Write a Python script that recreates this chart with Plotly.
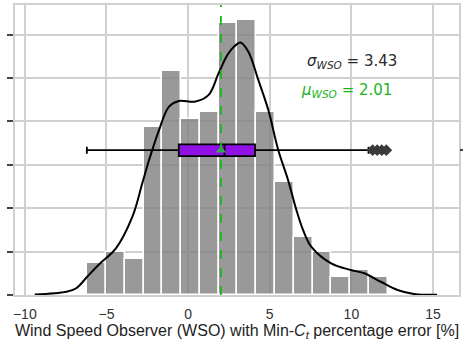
import plotly.graph_objects as go

# ---- data ----
bin_left = [-6.18, -5.03, -3.88, -2.73, -1.58, -0.43, 0.72, 1.87, 3.02, 4.17,
            5.32, 6.47, 7.62, 8.77, 9.92, 11.07]
bin_width = 1.15
density = [0.0146, 0.0198, 0.0164, 0.0776, 0.1032, 0.0811, 0.0843, 0.1252,
           0.1267, 0.0843, 0.0522, 0.0269, 0.0200, 0.0082, 0.0115, 0.0082]

kde_x = [-9.39, -7.46, -6.85, -6.18, -5.43, -4.42, -3.41, -2.80, -2.39, -1.78,
         -1.17, -0.57, 0.45, 1.26, 1.87, 2.48, 3.08, 3.21, 3.69, 4.30, 4.91,
         5.52, 6.12, 6.63, 7.04, 7.54, 8.76, 9.98, 10.79, 11.80, 12.82, 13.83, 15.25]
kde_y = [0.0002, 0.0015, 0.0031, 0.0084, 0.0143, 0.0215, 0.0361, 0.0516, 0.0622, 0.0760,
         0.0868, 0.0894, 0.0891, 0.0922, 0.1022, 0.1114, 0.1160, 0.1163, 0.1121, 0.0991, 0.0853,
         0.0668, 0.0530, 0.0392, 0.0300, 0.0223, 0.0146, 0.0115, 0.0100, 0.0061, 0.0023, 0.0005, 0.0001]

box_q1 = -0.57
box_median = 2.23
box_q3 = 4.10
box_low = -6.20
box_high = 11.05
outliers = [11.30, 11.58, 11.86, 12.14]
box_pos = 0.0667

mean_val = 2.01
std_val = 3.43

x_ticks = [-10, -5, 0, 5, 10, 15]
x_ticklabels = ["\u221210", "\u22125", "0", "5", "10", "15"]
y_ticks = [0, 0.02, 0.04, 0.06, 0.08, 0.10, 0.12]

x_range = [-10.60, 16.59]
y_range = [0, 0.1336]

GREEN = "#1db51d"
GRID = "#d0d0d0"

fig = go.Figure()

fig.add_trace(go.Bar(
    x=[l + bin_width / 2 for l in bin_left], y=density, width=bin_width,
    marker=dict(color="rgba(128,128,128,0.8)", line=dict(color="white", width=1.5)),
    showlegend=False, hoverinfo="skip"))

fig.add_trace(go.Scatter(
    x=kde_x, y=kde_y, mode="lines",
    line=dict(color="black", width=2, shape="spline", smoothing=1.0),
    showlegend=False, hoverinfo="skip"))

fig.add_trace(go.Box(
    orientation="h", y=[box_pos], q1=[box_q1], median=[box_median], q3=[box_q3],
    lowerfence=[box_low], upperfence=[box_high], width=0.0054,
    fillcolor="#9010e6", line=dict(color="black", width=1.8),
    whiskerwidth=0.6, boxpoints=False, showlegend=False, yaxis="y2", hoverinfo="skip"))

fig.add_trace(go.Scatter(
    x=outliers, y=[box_pos] * len(outliers), mode="markers",
    marker=dict(symbol="diamond", size=9, color="#3a3a3a"),
    showlegend=False, yaxis="y2", hoverinfo="skip"))

fig.add_trace(go.Scatter(
    x=[mean_val], y=[box_pos], mode="markers",
    marker=dict(symbol="triangle-up", size=9, color="#3aa65a"),
    showlegend=False, yaxis="y2", hoverinfo="skip"))

fig.add_shape(type="line", x0=mean_val, x1=mean_val, y0=0, y1=1, yref="paper",
              line=dict(color=GREEN, width=1.8, dash="dash"), layer="above")

fig.add_annotation(
    x=(354 - 189.3) / 16.44, y=(295 - 62) / 2170, xref="x", yref="y",
    text="<i>σ</i><sub><i>WSO</i></sub> = 3.43", showarrow=False,
    font=dict(family="DejaVu Sans", size=15, color="#2a2a2a"))
fig.add_annotation(
    x=(349 - 189.3) / 16.44, y=(295 - 91) / 2170, xref="x", yref="y",
    text="<i>μ</i><sub><i>WSO</i></sub> = 2.01", showarrow=False,
    font=dict(family="DejaVu Sans", size=15, color=GREEN))

fig.update_layout(
    width=465, height=348,
    margin=dict(l=15, r=3, t=5, b=53),
    paper_bgcolor="white", plot_bgcolor="white",
    bargap=0,
    font=dict(family="Liberation Sans, Arial", size=14, color="#333"),
    xaxis=dict(range=x_range, tickvals=x_ticks, ticktext=x_ticklabels,
               showgrid=True, gridcolor=GRID, gridwidth=1.5, zeroline=False,
               showline=True, linecolor=GRID, linewidth=2, mirror=True,
               ticks="", tickfont=dict(size=14, color="#333"), ticklabelstandoff=5,
               title=dict(text="Wind Speed Observer (WSO) with Min-<i>C<sub>t</sub></i> percentage error [%]",
                          font=dict(size=16, color="#222"), standoff=3)),
    yaxis=dict(range=y_range, tickvals=y_ticks, showticklabels=False,
               showgrid=True, gridcolor=GRID, gridwidth=1.5, zeroline=False,
               showline=True, linecolor=GRID, linewidth=2, mirror=True,
               ticks="outside", ticklen=6, tickwidth=2, tickcolor="#444"),
    yaxis2=dict(range=y_range, overlaying="y", side="right", tickvals=[box_pos],
                showticklabels=False, showgrid=False, zeroline=False,
                ticks="outside", ticklen=3, tickwidth=1.5, tickcolor="#444"),
)

fig.write_html("out.html")
